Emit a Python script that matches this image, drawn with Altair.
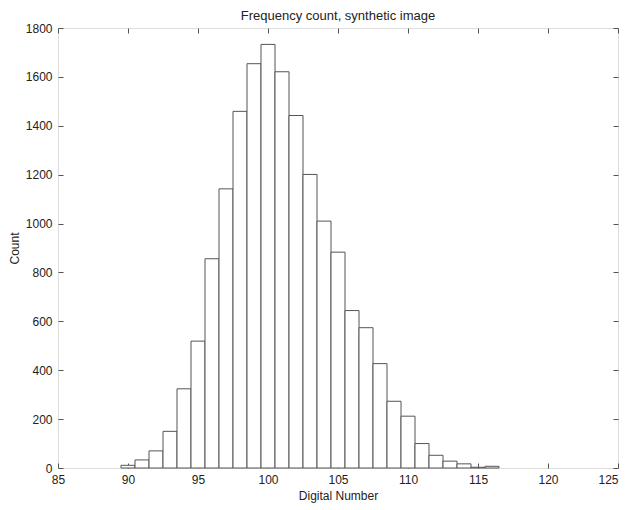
import altair as alt
import pandas as pd

digital_number = list(range(90, 117))
counts = [11, 33, 70, 150, 324, 519, 856, 1142, 1459, 1654, 1733, 1621, 1442,
          1201, 1010, 883, 644, 574, 427, 273, 212, 100, 52, 28, 17, 3, 7]
x_ticks = [85, 90, 95, 100, 105, 110, 115, 120, 125]
y_ticks = [0, 200, 400, 600, 800, 1000, 1200, 1400, 1600, 1800]

df = pd.DataFrame({"dn": digital_number, "count": counts})

FONT = "Liberation Sans"
LINE = "#555555"
TEXT = "#222222"

xs = alt.Scale(domain=[85, 125], nice=False, zero=False)
ys = alt.Scale(domain=[0, 1800], nice=False)

base = alt.Chart(df).transform_calculate(
    lo="datum.dn - 0.5", hi="datum.dn + 0.5"
)

bars = base.mark_bar(fill="white", stroke=LINE, strokeWidth=1).encode(
    x=alt.X("lo:Q", scale=xs, title="Digital Number",
            axis=alt.Axis(orient="bottom", values=x_ticks, offset=-5, tickSize=5,
                          tickColor=LINE, domain=False, grid=False, format="d",
                          labelPadding=6, labelFont=FONT, labelFontSize=12,
                          labelColor=TEXT, titleFont=FONT, titleFontSize=12,
                          titleFontWeight="normal", titleColor=TEXT, titlePadding=5,
                          labelFlush=False,
                          labelAlign=alt.ExprRef(expr="datum.value == 125 ? 'right' : 'center'"))),
    x2="hi:Q",
    y=alt.Y("count:Q", scale=ys, title="Count",
            axis=alt.Axis(orient="left", values=y_ticks, offset=-5, tickSize=5,
                          tickColor=LINE, domain=False, grid=False, format="d",
                          labelPadding=6, labelFont=FONT, labelFontSize=12,
                          labelColor=TEXT, titleFont=FONT, titleFontSize=12,
                          titleFontWeight="normal", titleColor=TEXT, titlePadding=4,
                          labelFlush=False)),
    y2=alt.datum(0),
)

ghost = base.mark_point(opacity=0).encode(
    x=alt.X("dn:Q", scale=xs, title=None,
            axis=alt.Axis(orient="top", values=x_ticks, offset=-5, tickSize=5,
                          tickColor=LINE, domain=False, grid=False, labels=False)),
    y=alt.Y("count:Q", scale=ys, title=None,
            axis=alt.Axis(orient="right", values=y_ticks, offset=-5, tickSize=5,
                          tickColor=LINE, domain=False, grid=False, labels=False)),
)

chart = alt.layer(bars, ghost).resolve_scale(
    x="independent", y="independent"
).resolve_axis(
    x="independent", y="independent"
).properties(
    width=560, height=440,
    title=alt.TitleParams("Frequency count, synthetic image", font=FONT,
                          fontSize=13, fontWeight="normal", color=TEXT, offset=-1),
    autosize=alt.AutoSizeParams(type="none"),
    padding={"left": 50, "top": 20, "right": 1, "bottom": 40},
).configure_view(
    stroke=LINE, strokeWidth=1
).configure(background="white")

chart.save("out.html", embed_options={"renderer": "svg", "actions": False})
